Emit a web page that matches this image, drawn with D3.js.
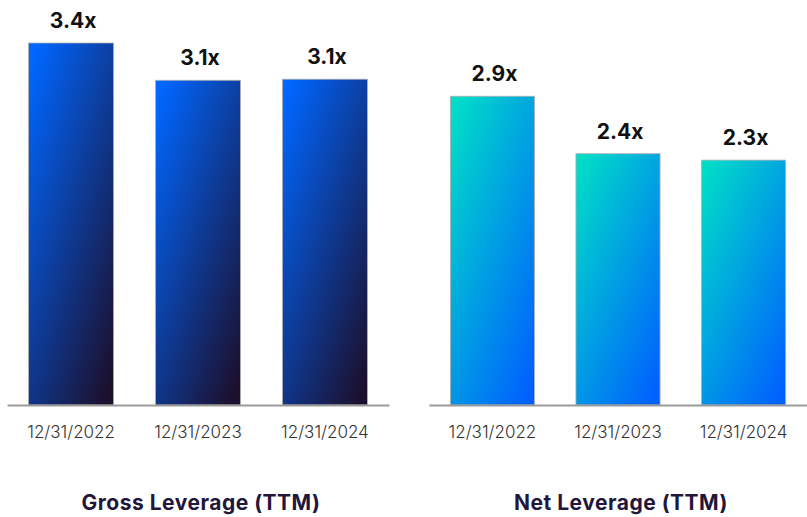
<!DOCTYPE html>
<html>
<head>
<meta charset="utf-8">
<script src="https://cdn.jsdelivr.net/npm/d3@7"></script>
<style>
  html, body { margin: 0; padding: 0; background: #fff; }
  svg { display: block; }
</style>
</head>
<body>
<svg id="chart" width="807" height="517"></svg>
<script>
// data
const periods = ['12/31/2022', '12/31/2023', '12/31/2024'];
const grossValues = [3.40, 3.05, 3.06];
const grossLabels = ['3.4x', '3.1x', '3.1x'];
const netValues = [2.90, 2.36, 2.30];
const netLabels = ['2.9x', '2.4x', '2.3x'];
const titles = ['Gross Leverage (TTM)', 'Net Leverage (TTM)'];

const width = 807;
const height = 517;
const baseline = 405;

const svg = d3.select('#chart');
const defs = svg.append('defs');

function addGradient(id, from, to) {
  const g = defs.append('linearGradient')
    .attr('id', id)
    .attr('x1', 0.1).attr('y1', 0)
    .attr('x2', 0.9).attr('y2', 1);
  g.append('stop').attr('offset', '0%').attr('stop-color', from);
  g.append('stop').attr('offset', '100%').attr('stop-color', to);
}
addGradient('gradGross', '#0066ff', '#1c0f2c');
addGradient('gradNet', '#00dcc8', '#0060ff');

// shared value scale so both panels line up
const y = d3.scaleLinear()
  .domain([0, 3.4])
  .range([baseline, 43]);

const panels = [
  {values: grossValues, labels: grossLabels, title: titles[0], fill: 'url(#gradGross)', x0: 7, x1: 389},
  {values: netValues, labels: netLabels, title: titles[1], fill: 'url(#gradNet)', x0: 429, x1: 807}
];

panels.forEach(p => {
  const x = d3.scaleBand()
    .domain(periods)
    .range([p.x0, p.x1])
    .paddingInner(0.33)
    .paddingOuter(0.17);

  const g = svg.append('g');

  g.selectAll('rect.bar')
    .data(p.values)
    .enter()
    .append('rect')
    .attr('class', 'bar')
    .attr('x', (d, i) => x(periods[i]))
    .attr('y', d => y(d))
    .attr('width', x.bandwidth())
    .attr('height', d => baseline - y(d))
    .attr('fill', p.fill)
    .attr('stroke', '#b0b0b0')
    .attr('stroke-width', 0.8);

  // baseline axis
  const axis = g.append('g')
    .attr('transform', 'translate(0,' + baseline + ')')
    .call(d3.axisBottom(x).tickSize(0).tickPadding(21));
  axis.select('.domain')
    .attr('stroke', '#9a9a9a')
    .attr('stroke-width', 2);
  axis.selectAll('text')
    .attr('fill', '#333')
    .style('font-family', 'Inter, sans-serif')
    .style('font-weight', 300)
    .style('font-size', '17px');

  // value labels
  g.selectAll('text.val')
    .data(p.values)
    .enter()
    .append('text')
    .attr('class', 'val')
    .attr('x', (d, i) => x(periods[i]) + x.bandwidth() / 2 + 2)
    .attr('y', d => y(d) - 15)
    .attr('text-anchor', 'middle')
    .style('font-family', 'Inter, sans-serif')
    .style('font-weight', 700)
    .style('font-size', '21px')
    .attr('fill', '#111')
    .text((d, i) => p.labels[i]);

  g.append('text')
    .attr('x', (p.x0 + p.x1) / 2 + 3)
    .attr('y', 510)
    .attr('text-anchor', 'middle')
    .style('font-family', 'Inter, sans-serif')
    .style('font-weight', 700)
    .style('font-size', '21px')
    .style('letter-spacing', '0.5px')
    .attr('fill', '#24163a')
    .text(p.title);
});
</script>
</body>
</html>
